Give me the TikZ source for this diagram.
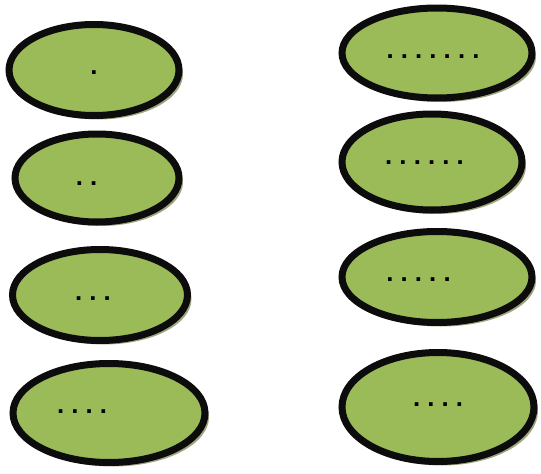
\documentclass[tikz,border=0pt]{standalone}
\usepackage{amsmath,amssymb}
\usepackage{fontspec}
\newfontfamily\dotface{Liberation Sans}
\usepackage{tikz}
\usetikzlibrary{positioning,shapes.geometric,shadows}
\definecolor{leafgreen}{RGB}{155,187,89}
\definecolor{shadowolive}{RGB}{158,166,128}
\definecolor{rimblack}{RGB}{12,12,12}

\tikzset{
  disc/.style={
    ellipse,
    draw=rimblack,
    line width=7pt,
    fill=leafgreen,
    inner sep=0pt,
    drop shadow={shadow xshift=4pt, shadow yshift=-4pt,
      fill=shadowolive, opacity=1}
  },
  dots/.style={
    font=\dotface\fontsize{25.7}{30}\selectfont\bfseries\frenchspacing,
    inner sep=0pt
  }
}

\begin{document}
\begin{tikzpicture}[x=1pt,y=-1pt]

\useasboundingbox (0,0) rectangle (541,474);

% Bal oszlop
\node[disc, minimum width=170pt, minimum height=91pt] (l1) at (94,70) {};
\node[disc, minimum width=164pt, minimum height=88pt] (l2) at (97,178) {};
\node[disc, minimum width=175pt, minimum height=91pt] (l3) at (100,295) {};
\node[disc, minimum width=192pt, minimum height=99pt] (l4) at (109,413) {};

% Jobb oszlop
\node[disc, minimum width=190pt, minimum height=90pt] (r1) at (437,53) {};
\node[disc, minimum width=180pt, minimum height=96pt] (r2) at (432,162) {};
\node[disc, minimum width=190pt, minimum height=91pt] (r3) at (437,277) {};
\node[disc, minimum width=192pt, minimum height=109pt] (r4) at (438,407) {};

% Pontok
\node[dots, anchor=base] (t1) at (94,74) {.};
\node[dots, anchor=base] (t2) at (86.5,185) {. .};
\node[dots, anchor=base] (t3) at (93,300) {. . .};
\node[dots, anchor=base] (t4) at (82,413) {. . . .};
\node[dots, anchor=base] (u1) at (433,58) {. . . . . . .};
\node[dots, anchor=base] (u2) at (424.5,164) {. . . . . .};
\node[dots, anchor=base] (u3) at (418.5,281) {. . . . .};
\node[dots, anchor=base] (u4) at (438,406) {. . . .};

\end{tikzpicture}
\end{document}
